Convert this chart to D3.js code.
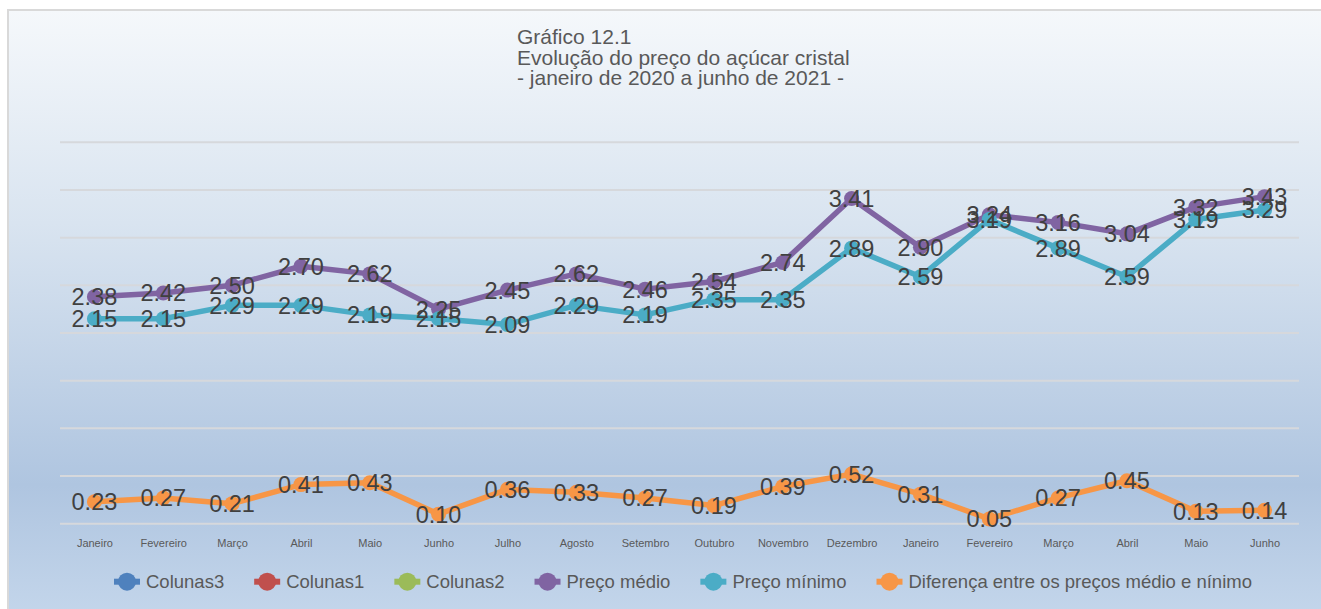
<!DOCTYPE html>
<html lang="pt">
<head>
<meta charset="utf-8"/>
<title>Gráfico 12.1</title>
<style>
  body { margin: 0; background: #ffffff; }
  svg { display: block; font-family: "Liberation Sans", Arial, sans-serif; }
</style>
</head>
<body>
<svg width="1321" height="609"></svg>
<script src="https://d3js.org/d3.v7.min.js"></script>
<script>

// dados
var meses = ["Janeiro", "Fevereiro", "Março", "Abril", "Maio", "Junho", "Julho", "Agosto", "Setembro",
             "Outubro", "Novembro", "Dezembro", "Janeiro", "Fevereiro", "Março", "Abril", "Maio", "Junho"];
var precoMedio = [2.38, 2.42, 2.50, 2.70, 2.62, 2.25, 2.45, 2.62, 2.46, 2.54, 2.74, 3.41, 2.90, 3.24, 3.16, 3.04, 3.32, 3.43];
var precoMinimo = [2.15, 2.15, 2.29, 2.29, 2.19, 2.15, 2.09, 2.29, 2.19, 2.35, 2.35, 2.89, 2.59, 3.19, 2.89, 2.59, 3.19, 3.29];
var diferenca = [0.23, 0.27, 0.21, 0.41, 0.43, 0.10, 0.36, 0.33, 0.27, 0.19, 0.39, 0.52, 0.31, 0.05, 0.27, 0.45, 0.13, 0.14];
var gradeY = [0, 0.5, 1, 1.5, 2, 2.5, 3, 3.5, 4];
var titulo = ["Gráfico 12.1", "Evolução do preço do açúcar cristal", "- janeiro de 2020 a junho de 2021 -"];
var legendaNomes = ["Colunas3", "Colunas1", "Colunas2", "Preço médio", "Preço mínimo", "Diferença entre os preços médio e nínimo"];
var legendaCores = ["#4f81bd", "#c0504d", "#9bbb59", "#8064a2", "#4bacc6", "#f79646"];

var series = [
  { valores: precoMedio, cor: "#8064a2" },
  { valores: precoMinimo, cor: "#4bacc6" },
  { valores: diferenca, cor: "#f79646" }
];

var svg = d3.select("svg"),
    width = +svg.attr("width"),
    height = +svg.attr("height");

// fundo em degrade
var defs = svg.append("defs");
var grad = defs.append("linearGradient")
    .attr("id", "fundo")
    .attr("x1", 0).attr("y1", 0).attr("x2", 0).attr("y2", 1);
grad.append("stop").attr("offset", "0%").attr("stop-color", "#f5f8fb");
grad.append("stop").attr("offset", "35%").attr("stop-color", "#d9e4f0");
grad.append("stop").attr("offset", "78%").attr("stop-color", "#afc5e0");
grad.append("stop").attr("offset", "100%").attr("stop-color", "#c4d6eb");

svg.append("rect")
    .attr("x", 8).attr("y", 10)
    .attr("width", width).attr("height", height)
    .attr("fill", "url(#fundo)")
    .attr("stroke", "#d9d9d9")
    .attr("stroke-width", 2);

// titulo
svg.append("text")
    .attr("x", 517)
    .attr("y", 44)
    .attr("font-size", "21px")
    .attr("fill", "#595959")
  .selectAll("tspan")
  .data(titulo)
  .enter().append("tspan")
    .attr("x", 517)
    .attr("dy", function(d, i) { return i == 0 ? 0 : 20.5; })
    .text(function(d) { return d; });

var x = d3.scalePoint()
    .domain(d3.range(meses.length))
    .range([60, 1299])
    .padding(0.5);

var y = d3.scaleLinear()
    .domain([0, 4])
    .range([523.7, 142.3]);

// linhas de grade
svg.append("g")
  .selectAll("line")
  .data(gradeY)
  .enter().append("line")
    .attr("x1", 60).attr("x2", 1299)
    .attr("y1", function(d) { return y(d); })
    .attr("y2", function(d) { return y(d); })
    .attr("stroke", "#d6d8dc")
    .attr("stroke-width", 2);

// eixo x
var eixo = svg.append("g")
    .attr("transform", "translate(0," + y(0) + ")")
    .call(d3.axisBottom(x)
        .tickSize(0)
        .tickPadding(15.5)
        .tickFormat(function(i) { return meses[i]; }));
eixo.select(".domain").remove();
eixo.selectAll("text")
    .attr("font-family", "'Liberation Sans', Arial, sans-serif")
    .attr("font-size", "11px")
    .attr("fill", "#595959");

var linha = d3.line()
    .x(function(d, i) { return x(i); })
    .y(function(d) { return y(d); });

series.forEach(function(s) {
  var g = svg.append("g");
  g.append("path")
      .datum(s.valores)
      .attr("d", linha)
      .attr("fill", "none")
      .attr("stroke", s.cor)
      .attr("stroke-width", 5.5)
      .attr("stroke-linejoin", "round");
  g.selectAll("circle")
    .data(s.valores)
    .enter().append("circle")
      .attr("cx", function(d, i) { return x(i); })
      .attr("cy", function(d) { return y(d); })
      .attr("r", 7.5)
      .attr("fill", s.cor);
});

// rotulos de dados
series.forEach(function(s) {
  svg.append("g")
    .selectAll("text")
    .data(s.valores)
    .enter().append("text")
      .attr("x", function(d, i) { return x(i); })
      .attr("y", function(d) { return y(d); })
      .attr("dy", "0.36em")
      .attr("text-anchor", "middle")
      .attr("font-size", "23.5px")
      .attr("fill", "#404040")
      .text(function(d) { return d.toFixed(2); });
});

// legenda
var leg = svg.append("g");
var posX = 127, legY = 581.7;
legendaNomes.forEach(function(nome, i) {
  var item = leg.append("g");
  item.append("line")
      .attr("x1", posX - 13).attr("x2", posX + 13)
      .attr("y1", legY).attr("y2", legY)
      .attr("stroke", legendaCores[i])
      .attr("stroke-width", 6);
  item.append("circle")
      .attr("cx", posX).attr("cy", legY)
      .attr("r", 9)
      .attr("fill", legendaCores[i]);
  var t = item.append("text")
      .attr("x", posX + 19)
      .attr("y", legY)
      .attr("dy", "0.35em")
      .attr("font-size", "18.5px")
      .attr("fill", "#595959")
      .text(nome);
  posX = posX + 19 + t.node().getComputedTextLength() + 43;
});

</script>
</body>
</html>
